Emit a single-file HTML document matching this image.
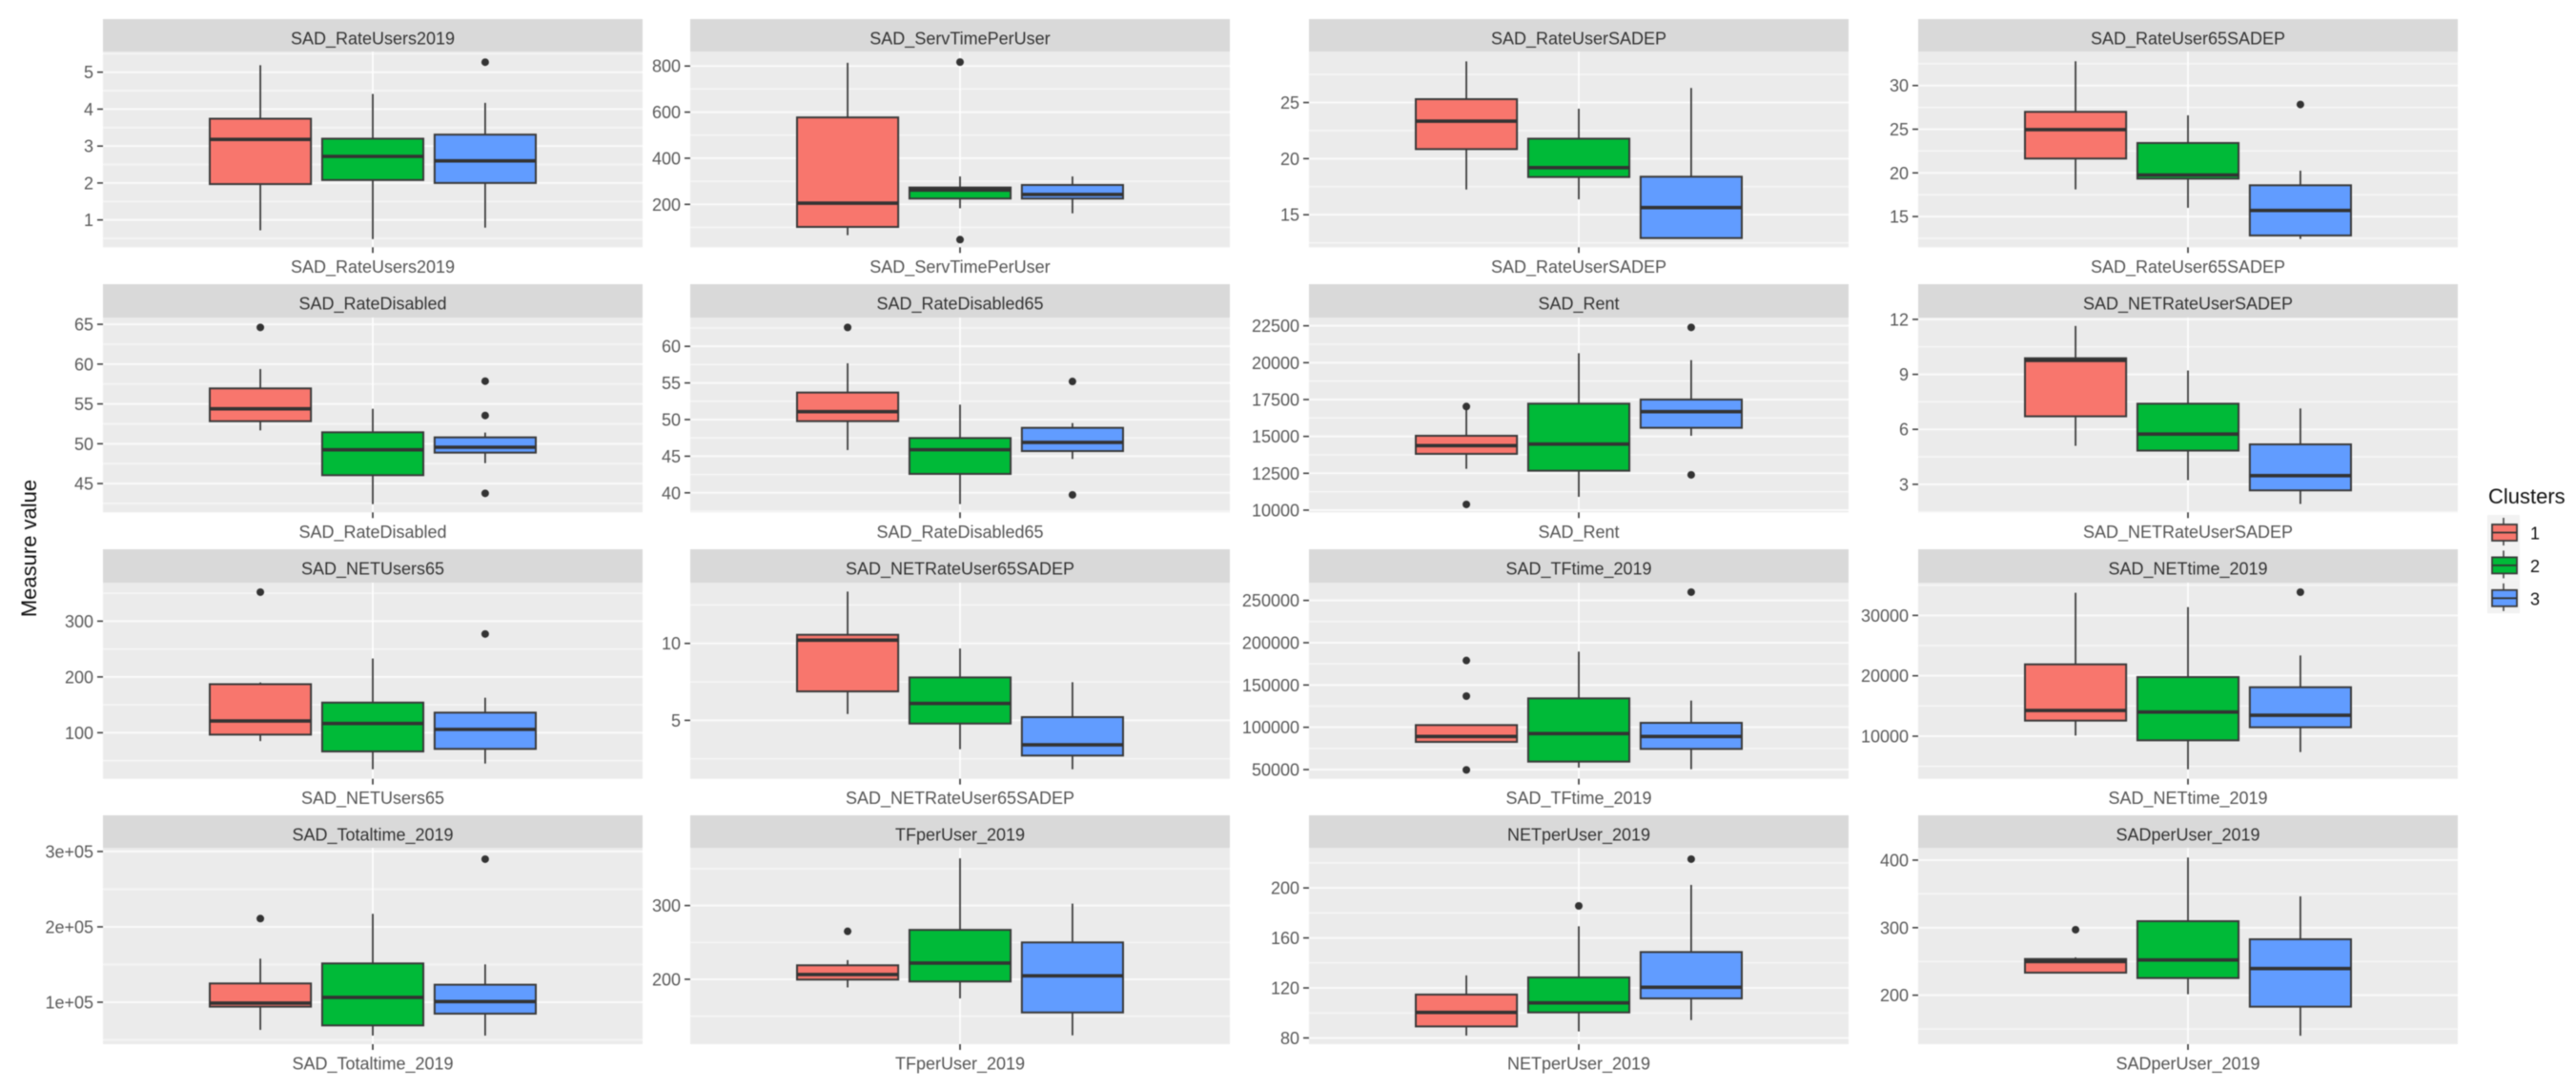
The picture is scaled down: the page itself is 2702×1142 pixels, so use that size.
<!DOCTYPE html>
<html lang="en">
<head>
<meta charset="utf-8">
<title>Clusters boxplots</title>
<style>
html,body{margin:0;padding:0;background:#fff;}
svg{display:block;font-family:"Liberation Sans",Arial,sans-serif;filter:blur(0.5px);}
</style>
</head>
<body>
<svg id="chart" xmlns="http://www.w3.org/2000/svg" width="2702" height="1142" viewBox="0 0 2702 1142">
<rect x="0" y="0" width="2702" height="1142" fill="#ffffff"/>
<text transform="translate(38,575) rotate(-90)" text-anchor="middle" font-size="22" fill="#111">Measure value</text>
<g id="panels"></g>
<g id="legend"></g>
</svg>
<script>
// ---- data ----
const categories = ['1', '2', '3'];
const panelTitles = [
  'SAD_RateUsers2019','SAD_ServTimePerUser','SAD_RateUserSADEP','SAD_RateUser65SADEP',
  'SAD_RateDisabled','SAD_RateDisabled65','SAD_Rent','SAD_NETRateUserSADEP',
  'SAD_NETUsers65','SAD_NETRateUser65SADEP','SAD_TFtime_2019','SAD_NETtime_2019',
  'SAD_Totaltime_2019','TFperUser_2019','NETperUser_2019','SADperUser_2019'
];
const tickValues = [
  [1,2,3,4,5],[200,400,600,800],[15,20,25],[15,20,25,30],
  [45,50,55,60,65],[40,45,50,55,60],[10000,12500,15000,17500,20000,22500],[3,6,9,12],
  [100,200,300],[5,10],[50000,100000,150000,200000,250000],[10000,20000,30000],
  [100000,200000,300000],[200,300],[80,120,160,200],[200,300,400]
];
const tickLabels = [
  ['1','2','3','4','5'],['200','400','600','800'],['15','20','25'],['15','20','25','30'],
  ['45','50','55','60','65'],['40','45','50','55','60'],['10000','12500','15000','17500','20000','22500'],['3','6','9','12'],
  ['100','200','300'],['5','10'],['50000','100000','150000','200000','250000'],['10000','20000','30000'],
  ['1e+05','2e+05','3e+05'],['200','300'],['80','120','160','200'],['200','300','400']
];
const yLimLow  = [0.26,13.8,12.1,11.48, 41.38,37.33,9849,1.47, 17.4,1.2,39100,2947, 44300,112,75,127.5];
const yLimHigh = [5.56,863,29.55,33.9, 65.85,63.93,23060,12.1, 369,13.95,271000,35421, 304600,378,231.9,417.9];

const whiskerHigh = [
  [5.19,4.41,4.17],[814,321,321],[28.67,24.45,26.3],[32.78,26.59,20.25],
  [59.38,54.39,51.4],[57.68,52.04,49.52],[16832,20647,20172],[11.64,9.21,7.14],
  [190,233,162.7],[13.37,9.67,7.48],[102632,189474,131579],[33737,31368,23368],
  [157806,217300,150211],[226,364,302.6],[130,169.3,202.4],[256,403.8,346.4]
];
const upperQuartile = [
  [3.74,3.20,3.31],[577,273,284],[25.3,21.78,18.39],[26.99,23.42,18.58],
  [56.95,51.44,50.8],[53.69,47.48,48.87],[15043,17220,17500],[9.88,7.4,5.18],
  [187,154,136],[10.56,7.79,5.21],[102632,134210,105263],[21895,19789,18105],
  [124895,151477,123207],[219,267,250],[114.7,128.4,148.7],[253.6,309.6,282.8]
];
const medians = [
  [3.18,2.72,2.60],[205,262,243],[23.34,19.2,15.64],[24.95,19.75,15.7],
  [54.39,49.24,49.56],[51.08,45.88,46.88],[14375,14483,16681],[9.76,5.74,3.47],
  [121,116.5,106],[10.21,6.1,3.41],[89098,92481,89098],[14263,14000,13474],
  [98734,106329,100844],[206.5,222,204.7],[100.4,108,120.5],[249.9,252.2,239.5]
];
const lowerQuartile = [
  [1.97,2.08,2.00],[102,225,225],[20.85,18.36,12.92],[21.64,19.34,12.83],
  [52.83,46.05,48.88],[49.78,42.58,45.7],[13815,12672,15582],[6.71,4.84,2.67],
  [96.6,66.4,71],[6.88,4.79,2.71],[82707,59398,74436],[12579,9316,11474],
  [94093,69198,84810],[199.6,197,155],[89.2,100.4,111.6],[233.4,225.4,183]
];
const whiskerLow = [
  [0.72,0.48,0.79],[66,183,161],[17.25,16.37,12.9],[18.1,16.0,12.43],
  [51.68,42.41,47.56],[45.84,38.46,44.62],[12802,10905,15043],[5.1,3.23,1.93],
  [85,34.5,44.7],[5.41,3.12,1.82],[82707,52256,50376],[10105,4526,7368],
  [63291,55696,55696],[189,174,124],[81.9,85.2,94.3],[233.4,201.4,140]
];
const outliers = [
  [[],[],[5.27]],[[],[817,47],[]],[[],[],[]],[[],[],[27.83]],
  [[64.61],[],[57.86,53.55,43.77]],[[62.58],[],[55.2,39.72]],[[17026,10388],[],[22392,12392]],[[],[],[]],
  [[352],[],[277]],[[],[],[]],[[178947,136842,49624],[],[259774]],[[],[],[33842]],
  [[210970],[],[289873]],[[265],[],[]],[[],[185.6],[223]],[[297],[],[]]
];

// ---- layout and style ----
const clusterFill = {'1':'#F8766D','2':'#00BA38','3':'#619CFF'};
const panelLefts = [108,724,1373,2012];
const panelWidth = 566;
const stripTops = [20,298,576,855];
const plotTops = [54,333,611,889.3];
const plotBottoms = [259.3,537.3,816.7,1095];
const NS = 'http://www.w3.org/2000/svg';

function make(parent, tag, attrs, text) {
  const el = document.createElementNS(NS, tag);
  for (const k in attrs) el.setAttribute(k, attrs[k]);
  if (text !== undefined) el.textContent = text;
  parent.appendChild(el);
  return el;
}
function yScale(p, row) {
  const lo = yLimLow[p], hi = yLimHigh[p], top = plotTops[row], bot = plotBottoms[row];
  return function (v) { return bot - (v - lo) / (hi - lo) * (bot - top); };
}
function xScale(c, left) {
  // discrete x with one category, dodged into three boxes
  return left + panelWidth * ((1 + (c - 1) * 0.25) - 0.4) / 1.2;
}

const root = document.getElementById('panels');
panelTitles.forEach(function (title, p) {
  const col = p % 4, row = Math.floor(p / 4);
  const left = panelLefts[col], right = left + panelWidth;
  const top = plotTops[row], bot = plotBottoms[row], stripTop = stripTops[row];
  const y = yScale(p, row);
  const mid = left + panelWidth / 2;
  const g = make(root, 'g', {});
  
  

  const strip = make(g, 'rect', {x:left, y:stripTop, width:panelWidth, height:top - stripTop, fill:'#d9d9d9'});
  
  
  const stripText = make(g, 'text', {x:mid, y:stripTop + 26.5, 'text-anchor':'middle', 'font-size':18, fill:'#333'}, title);
  
  

  const bg = make(g, 'rect', {x:left, y:top, width:panelWidth, height:bot - top, fill:'#ebebeb'});
  
  

  // minor gridlines halfway between the major ticks, extended across the panel
  const ticks = tickValues[p];
  const step = ticks.length > 1 ? ticks[1] - ticks[0] : 1;
  for (let v = ticks[0] - step / 2; v < yLimHigh[p]; v += step) {
    if (v <= yLimLow[p]) continue;
    const minor = make(g, 'line', {x1:left, x2:right, y1:y(v), y2:y(v), stroke:'#f5f5f5', 'stroke-width':1.8});
    
    
  }
  ticks.forEach(function (v, i) {
    const major = make(g, 'line', {x1:left, x2:right, y1:y(v), y2:y(v), stroke:'#fafafa', 'stroke-width':2});
    
    
    const tick = make(g, 'line', {x1:left - 6, x2:left, y1:y(v), y2:y(v), stroke:'#444', 'stroke-width':1.6});
    
    
    const label = make(g, 'text', {x:left - 10, y:y(v) + 6.5, 'text-anchor':'end', 'font-size':18, fill:'#5a5a5a'}, tickLabels[p][i]);
    
    
  });
  const vgrid = make(g, 'line', {x1:mid, x2:mid, y1:top, y2:bot, stroke:'#ffffff', 'stroke-width':1.6});
  
  
  const xTick = make(g, 'line', {x1:mid, x2:mid, y1:bot, y2:bot + 6, stroke:'#333', 'stroke-width':1.6});
  
  
  const xLabel = make(g, 'text', {x:mid, y:bot + 26.5, 'text-anchor':'middle', 'font-size':18, fill:'#555'}, title);
  
  

  categories.forEach(function (cat, c) {
    const cx = xScale(c, left);
    const bw = panelWidth * 0.1875;
    const box = make(g, 'g', {});
    
    
    const whisker = make(box, 'line', {x1:cx, x2:cx, y1:y(whiskerHigh[p][c]), y2:y(whiskerLow[p][c]), stroke:'#333', 'stroke-width':1.7});
    
    
    const yq3 = y(upperQuartile[p][c]), yq1 = y(lowerQuartile[p][c]);
    const rect = make(box, 'rect', {x:cx - bw / 2, y:yq3, width:bw, height:yq1 - yq3, fill:clusterFill[cat], stroke:'#3a3a3a', 'stroke-width':2});
    
    
    const med = make(box, 'line', {x1:cx - bw / 2, x2:cx + bw / 2, y1:y(medians[p][c]), y2:y(medians[p][c]), stroke:'#333', 'stroke-width':3.6});
    
    
    outliers[p][c].forEach(function (v) {
      const dot = make(box, 'circle', {cx:cx, cy:y(v), r:4, fill:'#333'});
      
      
    });
  });
});

// ---- legend ----
const legend = document.getElementById('legend');
const legendTitle = make(legend, 'text', {x:2610, y:528, 'font-size':22, fill:'#111'}, 'Clusters');


categories.forEach(function (cat, i) {
  const top = 540 + i * 34.4;
  const entry = make(legend, 'g', {});
  
  
  make(entry, 'rect', {x:2609, y:top, width:34, height:34.4, fill:'#f2f2f2'});
  make(entry, 'line', {x1:2626, x2:2626, y1:top + 3, y2:top + 32, stroke:'#444', 'stroke-width':1.6});
  make(entry, 'rect', {x:2614, y:top + 10, width:26, height:17, fill:clusterFill[cat], stroke:'#3a3a3a', 'stroke-width':1.8});
  make(entry, 'line', {x1:2614, x2:2640, y1:top + 18.5, y2:top + 18.5, stroke:'#333', 'stroke-width':1.8});
  const label = make(entry, 'text', {x:2654, y:top + 25.5, 'font-size':18, fill:'#111'}, cat);
  
  
});
</script>
</body>
</html>
